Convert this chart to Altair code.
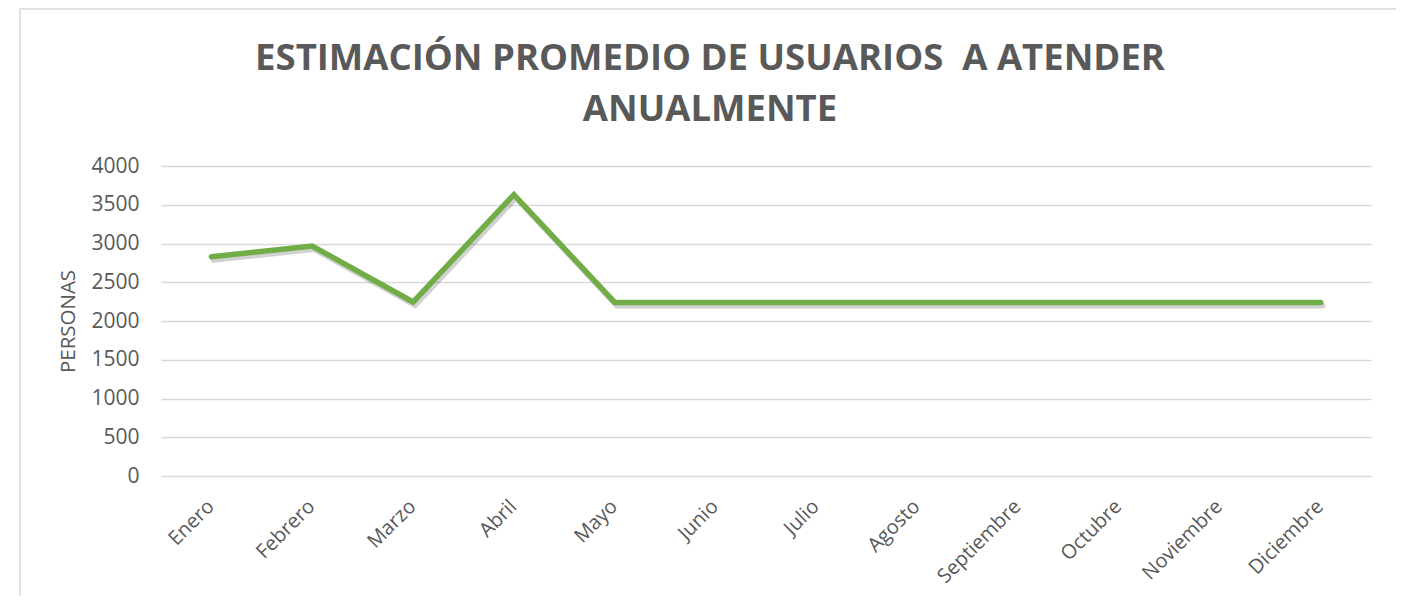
import altair as alt
import pandas as pd

months = ["Enero", "Febrero", "Marzo", "Abril", "Mayo", "Junio", "Julio",
          "Agosto", "Septiembre", "Octubre", "Noviembre", "Diciembre"]
personas = [2830, 2968, 2245, 3630, 2240, 2240, 2240, 2240, 2240, 2240, 2240, 2240]
y_ticks = [0, 500, 1000, 1500, 2000, 2500, 3000, 3500, 4000]
title_lines = ["ESTIMACIÓN PROMEDIO DE USUARIOS\u00a0 A ATENDER", "ANUALMENTE"]

df = pd.DataFrame({"Mes": months, "Personas": personas})

FONT = "Open Sans"
GRAY = "#595959"
GREEN = "#70AD47"

x_enc = alt.X("Mes:N", sort=months, scale=alt.Scale(type="point", padding=0.5),
              axis=alt.Axis(title=None, labelAngle=-45, labelFontSize=20,
                            labelColor=GRAY, labelFont=FONT, domain=False,
                            ticks=False, grid=False, labelPadding=20,
                            labelOffset=-8))
y_enc = alt.Y("Personas:Q", scale=alt.Scale(domain=[0, 4000], nice=False),
              axis=alt.Axis(title="PERSONAS", values=y_ticks, format="d",
                            labelFontSize=21,
                            labelColor=GRAY, labelFont=FONT, titleFont=FONT,
                            titleFontSize=20.5, titleFontWeight="normal",
                            titleColor=GRAY, titlePadding=12, domain=False,
                            ticks=False, labelPadding=22, gridColor="#D9D9D9",
                            gridWidth=1.5))

shadow = alt.Chart(df).mark_line(color="#000000", opacity=0.18, strokeWidth=6,
                                 strokeCap="round", strokeJoin="miter",
                                 xOffset=2, yOffset=3).encode(x=x_enc, y=y_enc)
line = alt.Chart(df).mark_line(color=GREEN, strokeWidth=5.5, strokeCap="round",
                               strokeJoin="miter").encode(x=x_enc, y=y_enc)

border = alt.Chart(alt.Data(values=[{}])).mark_rect(
    fill="transparent", stroke="#D9D9D9", strokeWidth=1.5
).encode(x=alt.value(-141), x2=alt.value(1240), y=alt.value(-157), y2=alt.value(470))

chart = alt.layer(border, shadow, line).properties(
    width=1210, height=310,
    title=alt.TitleParams(
        text=title_lines,
        font=FONT, fontSize=36.5, fontWeight="bold", color=GRAY,
        anchor="middle", orient="top", frame="group", dx=-56, offset=-120,
        lineHeight=51),
    autosize=alt.AutoSizeParams(type="none"),
    padding={"left": 153, "top": 158, "right": 25, "bottom": 120},
).configure_view(stroke=None)

chart.save("out.html", embed_options={"renderer": "svg", "actions": False})
